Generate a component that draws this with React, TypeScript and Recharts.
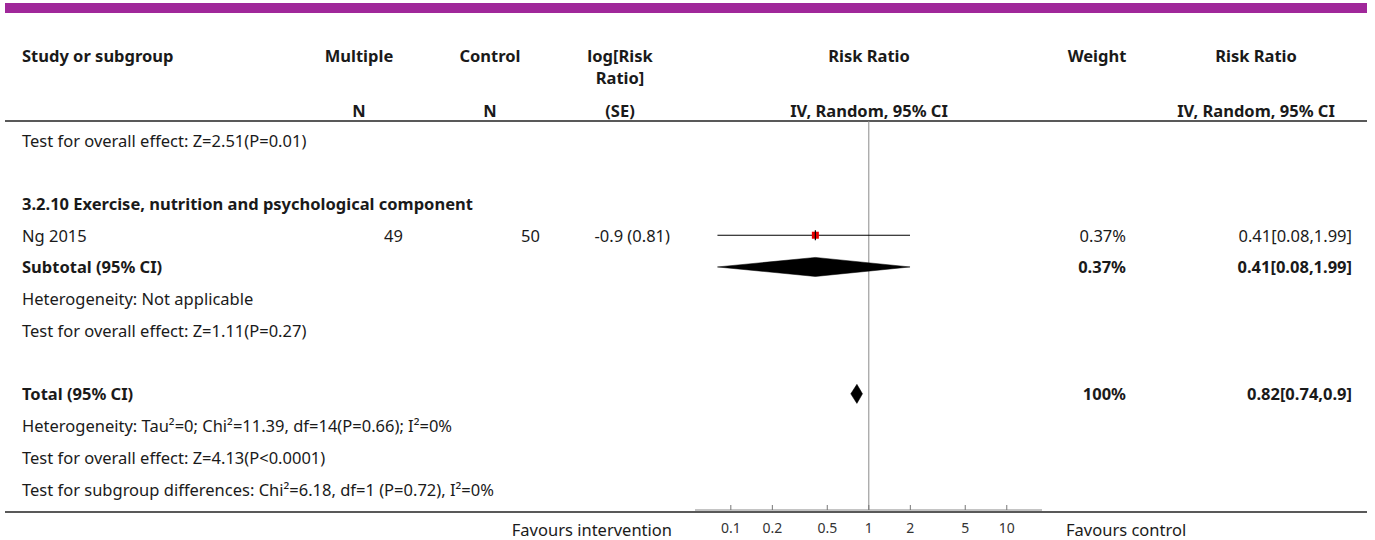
import { ScatterChart, Scatter, XAxis, YAxis, ReferenceLine, ErrorBar, Customized, Label } from 'recharts';

const FONT = '"Noto Sans", "DejaVu Sans", sans-serif';
const INK = '#1a1a1a';
const FS = 16.5;

// table rows, top to bottom
const rowText = [
  'Test for overall effect: Z=2.51(P=0.01)',
  '',
  '3.2.10 Exercise, nutrition and psychological component',
  'Ng 2015',
  'Subtotal (95% CI)',
  'Heterogeneity: Not applicable',
  'Test for overall effect: Z=1.11(P=0.27)',
  '',
  'Total (95% CI)',
  'Heterogeneity: Tau\u00b2=0; Chi\u00b2=11.39, df=14(P=0.66); I\u00b2=0%',
  'Test for overall effect: Z=4.13(P<0.0001)',
  'Test for subgroup differences: Chi\u00b2=6.18, df=1 (P=0.72), I\u00b2=0%',
];
const rowBold = [false, false, true, false, true, false, false, false, true, false, false, false];
const multipleN = ['', '', '', '49', '', '', '', '', '', '', '', ''];
const controlN = ['', '', '', '50', '', '', '', '', '', '', '', ''];
const logRRSE = ['', '', '', '-0.9 (0.81)', '', '', '', '', '', '', '', ''];
const weightText = ['', '', '', '0.37%', '0.37%', '', '', '', '100%', '', '', ''];
const rrText = ['', '', '', '0.41[0.08,1.99]', '0.41[0.08,1.99]', '', '', '', '0.82[0.74,0.9]', '', '', ''];
const rowIndex = rowText.map((_, i) => i);

// single studies: square + CI
const studyRows = [3];
const studyRR = [0.41];
const studyLow = [0.08];
const studyHigh = [1.99];

// pooled estimates: diamonds
const pooledRows = [4, 8];
const pooledRR = [0.41, 0.82];
const pooledLow = [0.08, 0.74];
const pooledHigh = [1.99, 0.9];

const axisTicks = [0.1, 0.2, 0.5, 1, 2, 5, 10];

const DIAMOND_HALF = 0.3;

const studyData = studyRows.map((row, i) => ({
  x: studyRR[i],
  y: row,
  ci: [studyRR[i] - studyLow[i], studyHigh[i] - studyRR[i]],
}));

const diamondData = pooledRows.map((row, i) => [
  { x: pooledLow[i], y: row },
  { x: pooledRR[i], y: row - DIAMOND_HALF },
  { x: pooledHigh[i], y: row },
  { x: pooledRR[i], y: row + DIAMOND_HALF },
]);

const RowTick = (props: any) => {
  const i = props.payload.value as number;
  const y = props.y;
  const fw = rowBold[i] ? 700 : 400;
  const common = { y, dominantBaseline: 'central' as const, fontFamily: FONT, fontSize: FS, fill: INK };
  return (
    <g>
      <text {...common} x={22} fontWeight={fw}>{rowText[i]}</text>
      <text {...common} x={403} textAnchor="end">{multipleN[i]}</text>
      <text {...common} x={540} textAnchor="end">{controlN[i]}</text>
      <text {...common} x={670} textAnchor="end">{logRRSE[i]}</text>
      <text {...common} x={1126} textAnchor="end" fontWeight={fw}>{weightText[i]}</text>
      <text {...common} x={1352} textAnchor="end" fontWeight={fw}>{rrText[i]}</text>
    </g>
  );
};

const XTick = (props: any) => {
  const { x, y, payload } = props;
  return (
    <g>
      <line x1={x} x2={x} y1={y} y2={y - 5} stroke="#777" />
      <text x={x} y={y + 17} textAnchor="middle" dominantBaseline="central" fontFamily={FONT} fontSize={14} fill="#333">
        {payload.value}
      </text>
    </g>
  );
};

const FavoursLabels = (props: any) => {
  const vb = props.viewBox;
  return (
    <g fontFamily={FONT} fontSize={FS} fill={INK}>
      <text x={vb.x - 23} y={vb.y + 19} textAnchor="end" dominantBaseline="central">Favours intervention</text>
      <text x={vb.x + vb.width + 24} y={vb.y + 19} dominantBaseline="central">Favours control</text>
    </g>
  );
};

const StudyMark = (props: any) => {
  const { cx, cy } = props;
  return (
    <g>
      <rect x={cx - 3.5} y={cy - 3.5} width={7} height={7} fill="#e60000" />
      <line x1={cx} x2={cx} y1={cy - 5} y2={cy + 5} stroke="#000" strokeWidth={1.2} />
    </g>
  );
};

const DiamondLine = (props: any) => {
  const pts = (props.points || []).map((p: any) => `${p.x},${p.y}`).join(' ');
  return <polygon points={pts} fill="#000" stroke="#000" strokeWidth={0.5} />;
};

const TableFrame = () => {
  const head = { fontFamily: FONT, fontSize: FS, fontWeight: 700, fill: INK, dominantBaseline: 'central' as const };
  return (
    <g>
      <rect x={5} y={3} width={1362} height={10} fill="#a0289a" />
      <text {...head} x={22} y={55}>Study or subgroup</text>
      <text {...head} x={359} y={55} textAnchor="middle">Multiple</text>
      <text {...head} x={359} y={110} textAnchor="middle">N</text>
      <text {...head} x={490} y={55} textAnchor="middle">Control</text>
      <text {...head} x={490} y={110} textAnchor="middle">N</text>
      <text {...head} x={620} y={55} textAnchor="middle">log[Risk</text>
      <text {...head} x={620} y={77} textAnchor="middle">Ratio]</text>
      <text {...head} x={620} y={110} textAnchor="middle">(SE)</text>
      <text {...head} x={869} y={55} textAnchor="middle">Risk Ratio</text>
      <text {...head} x={869} y={110} textAnchor="middle">IV, Random, 95% CI</text>
      <text {...head} x={1097} y={55} textAnchor="middle">Weight</text>
      <text {...head} x={1256} y={55} textAnchor="middle">Risk Ratio</text>
      <text {...head} x={1256} y={110} textAnchor="middle">IV, Random, 95% CI</text>
      <line x1={5} x2={1367} y1={121} y2={121} stroke="#222" strokeWidth={1.5} />
      <line x1={5} x2={1367} y1={512} y2={512} stroke="#222" strokeWidth={1.5} />
    </g>
  );
};

export default function App() {
  return (
    <div style={{ position: 'absolute', left: 0, top: 0, width: 1375, height: 540, background: '#fff' }}>
      <ScatterChart width={1375} height={540} margin={{ top: 121, right: 333, bottom: 1, left: 5 }}>
        <XAxis
          type="number"
          dataKey="x"
          scale="log"
          domain={[0.055, 18]}
          allowDataOverflow
          ticks={axisTicks}
          interval={0}
          tickSize={0}
          tickMargin={0}
          tickLine={false}
          axisLine={{ stroke: '#888' }}
          tick={<XTick />}
          height={29}
        >
          <Label content={<FavoursLabels />} />
        </XAxis>
        <YAxis
          type="number"
          dataKey="y"
          domain={[-0.6, 11.66]}
          allowDataOverflow
          reversed
          ticks={rowIndex}
          interval={0}
          width={690}
          axisLine={false}
          tickLine={false}
          tick={<RowTick />}
        />
        <ReferenceLine x={1} stroke="#8a8a8a" strokeWidth={1} />
        <Customized component={TableFrame} />
        {diamondData.map((d, i) => (
          <Scatter
            key={i}
            data={d}
            line={<DiamondLine />}
            shape={() => <g />}
            isAnimationActive={false}
          />
        ))}
        <Scatter data={studyData} shape={<StudyMark />} isAnimationActive={false}>
          <ErrorBar dataKey="ci" direction="x" width={0} stroke="#000" strokeWidth={1.2} />
        </Scatter>
      </ScatterChart>
    </div>
  );
}
